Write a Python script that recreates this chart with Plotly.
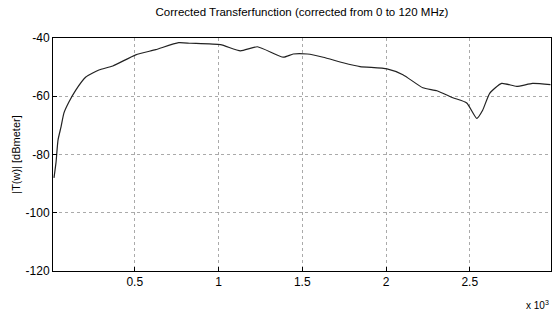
import plotly.graph_objects as go

freq = [0.018, 0.030, 0.042, 0.060, 0.077, 0.107, 0.149, 0.208, 0.286, 0.369,
        0.506, 0.625, 0.762, 0.833, 1.012, 1.131, 1.232, 1.387, 1.446, 1.530,
        1.625, 1.744, 1.845, 2.006, 2.101, 2.220, 2.304, 2.399, 2.482, 2.542,
        2.577, 2.619, 2.690, 2.780, 2.875, 2.982]
gain = [-88, -82.7, -75, -70.5, -65.8, -62, -57.8, -53.4, -51, -49.6,
        -45.8, -44, -41.6, -41.8, -42.3, -44.4, -43, -46.6, -45.5, -45.5,
        -46.6, -48.5, -49.8, -50.6, -52.6, -57.1, -58.1, -60.5, -62.3, -67.6,
        -64.8, -59, -55.6, -56.6, -55.6, -56]
xticks = [0.5, 1, 1.5, 2, 2.5]
yticks = [-40, -60, -80, -100, -120]

fig = go.Figure()
fig.add_trace(go.Scatter(x=freq, y=gain, mode="lines",
                         line=dict(color="#222222", width=1.2, shape="spline", smoothing=0.5),
                         showlegend=False))

axis_common = dict(showline=True, linecolor="black", linewidth=1, mirror=True,
                   ticks="inside", ticklen=4, tickcolor="black",
                   showgrid=True, gridcolor="#aaaaaa", griddash="dot", gridwidth=1,
                   zeroline=False, tickfont=dict(family="Liberation Sans, Arial", size=12, color="black"))

fig.update_layout(
    width=552, height=320,
    margin=dict(l=53, r=1, t=38, b=49),
    paper_bgcolor="white", plot_bgcolor="white",
    title=dict(text="Corrected Transferfunction (corrected from 0 to 120 MHz)",
               x=0.547, xanchor="center", y=0.962, yanchor="middle",
               font=dict(family="Liberation Sans, Arial", size=11.5, color="black")),
    xaxis=dict(range=[0.012, 2.985], tickvals=xticks, ticktext=[str(v) for v in xticks], **axis_common),
    yaxis=dict(range=[-120, -40], tickvals=yticks, ticktext=[str(v) for v in yticks],
               title=dict(text="|T(w)| [dBmeter]", standoff=2,
                          font=dict(family="Liberation Sans, Arial", size=11, color="black")),
               **axis_common),
    annotations=[dict(text="x 10<sup>3</sup>", xref="paper", yref="paper", x=1.0, y=-0.145,
                      xanchor="right", yanchor="middle", showarrow=False,
                      font=dict(family="Liberation Sans, Arial", size=10, color="black"))],
)

fig.write_html("out.html")
